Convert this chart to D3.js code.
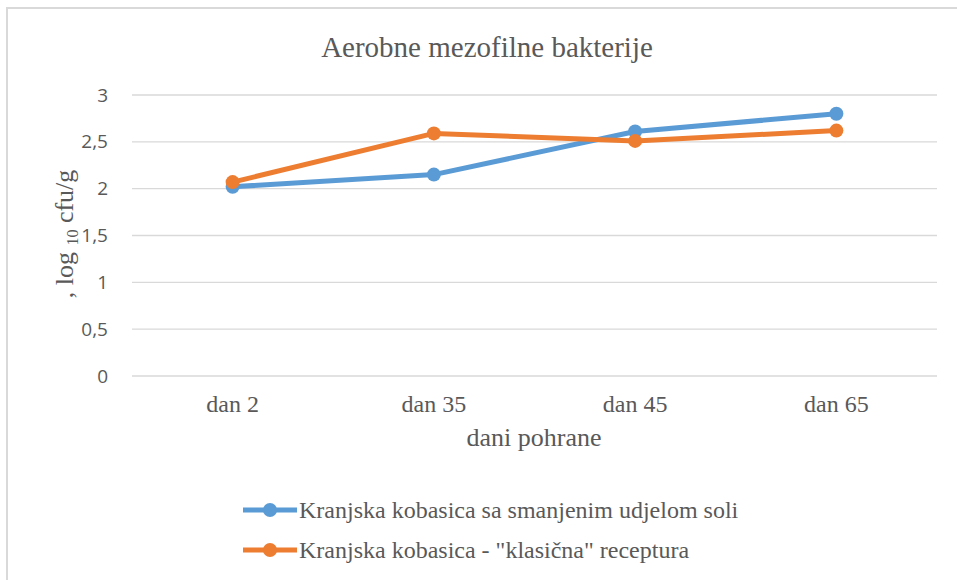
<html>
<head>
<meta charset="utf-8">
<script src="https://d3js.org/d3.v7.min.js"></script>
<style>
  body { margin: 0; background: #fff; }
</style>
</head>
<body>
<svg width="957" height="580"></svg>
<script>
var days = ["dan 2", "dan 35", "dan 45", "dan 65"];
var reducedSalt = [2.02, 2.15, 2.61, 2.80];
var classic = [2.07, 2.59, 2.51, 2.62];
var yTicks = [0, 0.5, 1, 1.5, 2, 2.5, 3];
var seriesNames = ["Kranjska kobasica sa smanjenim udjelom soli", "Kranjska kobasica - \"klasična\" receptura"];
var colors = ["#5b9bd5", "#ed7d31"];

var SERIF = "'Liberation Serif', 'Times New Roman', 'DejaVu Serif', serif";
var SANS = "'Open Sans', 'Liberation Sans', sans-serif";
var GREY = "#595959";

var svg = d3.select("svg");

// chart frame
svg.append("rect").attr("x", 7).attr("y", 8).attr("width", 960).attr("height", 590)
  .attr("fill", "none").attr("stroke", "#d9d9d9").attr("stroke-width", 2);

var x = d3.scaleBand().domain(days).range([132, 937]);
var y = d3.scaleLinear().domain([0, 3]).range([376, 95]);

// gridlines
svg.append("g").selectAll("line").data(yTicks).enter().append("line")
  .attr("x1", 132).attr("x2", 937)
  .attr("y1", function(d){ return y(d); }).attr("y2", function(d){ return y(d); })
  .attr("stroke", "#d9d9d9").attr("stroke-width", 1.3);

var yAxis = d3.axisLeft(y).tickValues(yTicks).tickSize(0).tickPadding(24)
  .tickFormat(function(d){ return String(d).replace(".", ","); });
var gy = svg.append("g").attr("transform", "translate(132,0)").call(yAxis)
  .attr("font-family", SANS).attr("font-size", 19);
gy.select(".domain").remove();
gy.selectAll("text").attr("fill", GREY);

var xAxis = d3.axisBottom(x).tickSize(0).tickPadding(19);
var gx = svg.append("g").attr("transform", "translate(0,376)").call(xAxis)
  .attr("font-family", SERIF).attr("font-size", 24);
gx.select(".domain").remove();
gx.selectAll("text").attr("fill", GREY);

// title & axis titles
svg.append("text").attr("x", 487).attr("y", 57)
  .attr("font-family", SERIF).attr("fill", GREY)
  .attr("text-anchor", "middle").attr("font-size", 29).text("Aerobne mezofilne bakterije");
svg.append("text").attr("x", 534).attr("y", 446)
  .attr("font-family", SERIF).attr("fill", GREY)
  .attr("text-anchor", "middle").attr("font-size", 26).text("dani pohrane");

var yt = svg.append("text").attr("font-family", SERIF).attr("fill", GREY)
  .attr("transform", "translate(73,234) rotate(-90)")
  .style("white-space", "pre")
  .attr("text-anchor", "middle").attr("font-size", 26);
yt.append("tspan").text(", log ");
yt.append("tspan").attr("dy", 5).attr("font-size", 16).text("10");
yt.append("tspan").attr("dy", -5).text(" cfu/g");

var line = d3.line()
  .x(function(d, i){ return x(days[i]) + x.bandwidth() / 2; })
  .y(function(d){ return y(d); });

[reducedSalt, classic].forEach(function(s, k) {
  svg.append("path").datum(s).attr("d", line).attr("fill", "none")
    .attr("stroke", colors[k]).attr("stroke-width", 5).attr("stroke-linejoin", "round");
  svg.append("g").selectAll("circle").data(s).enter().append("circle")
    .attr("cx", function(d, i){ return x(days[i]) + x.bandwidth() / 2; })
    .attr("cy", function(d){ return y(d); })
    .attr("r", 7).attr("fill", colors[k]);
});

// legend
var leg = svg.append("g").selectAll("g").data(seriesNames).enter().append("g")
  .attr("transform", function(d, i){ return "translate(243," + (510 + i * 40) + ")"; });
leg.append("line").attr("x1", 0).attr("x2", 54).attr("y1", 0).attr("y2", 0)
  .attr("stroke", function(d, i){ return colors[i]; }).attr("stroke-width", 5);
leg.append("circle").attr("cx", 27).attr("cy", 0).attr("r", 7)
  .attr("fill", function(d, i){ return colors[i]; });
leg.append("text").attr("x", 56).attr("y", 8)
  .attr("font-family", SERIF).attr("fill", GREY)
  .attr("font-size", 24).text(function(d){ return d; });
</script>
</body>
</html>
